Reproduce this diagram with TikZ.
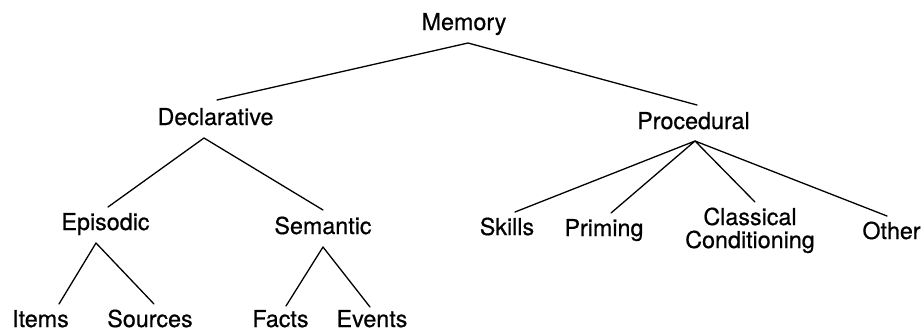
\documentclass[tikz,border=0pt]{standalone}
\usepackage{fontspec}
\setmainfont{TeX Gyre Heros}
\newfontfamily\treefont{TeX Gyre Heros}[FakeBold=0.6]
\begin{document}
\begin{tikzpicture}[x=1pt,y=-1pt,
  label/.style={anchor=base,inner sep=0pt,align=center,
    font=\treefont\fontsize{23.3}{23}\selectfont},
  branch/.style={line width=1.3pt,line cap=round,line join=round}]
\path[use as bounding box] (0,0) rectangle (923,333);

% category labels (positioned on their baselines; the two-line label sits on its last line)
\node[label] (mem)   at (464,30)  {Memory};
\node[label] (decl)  at (215.5,125) {Declarative};
\node[label] (proc)  at (693.5,129) {Procedural};
\node[label] (epi)   at (105.5,230) {Episodic};
\node[label] (sem)   at (323,234) {Semantic};
\node[label] (items) at (40.5,327) {Items};
\node[label] (src)   at (150,327) {Sources};
\node[label] (facts) at (280.5,327) {Facts};
\node[label] (evts)  at (372,327) {Events};
\node[label] (skill) at (507,235) {Skills};
\node[label] (prim)  at (604,236) {Priming};
\node[label] (cc)    at (750,248) {Classical\\Conditioning};
\node[label] (oth)   at (891.5,239) {Other};

% branching points below each parent
\coordinate (mem-b)  at (468,43);
\coordinate (decl-b) at (204,138);
\coordinate (proc-b) at (695,141);
\coordinate (epi-b)  at (96,243);
\coordinate (sem-b)  at (323,247);

% attachment points above each child
\coordinate (decl-t)  at (217,100);
\coordinate (proc-t)  at (697,105);
\coordinate (epi-t)   at (108,207);
\coordinate (sem-t)   at (323,210);
\coordinate (items-t) at (59,304);
\coordinate (src-t)   at (154,304);
\coordinate (facts-t) at (286,306);
\coordinate (evts-t)  at (370,307);
\coordinate (skill-t) at (515,212);
\coordinate (prim-t)  at (611,213);
\coordinate (cc-t)    at (755,202);
\coordinate (oth-t)   at (887,216);

\draw[branch] (decl-t) -- (mem-b) -- (proc-t);
\draw[branch] (epi-t) -- (decl-b) -- (sem-t);
\draw[branch] (items-t) -- (epi-b) -- (src-t);
\draw[branch] (facts-t) -- (sem-b) -- (evts-t);
\draw[branch] (skill-t) -- (proc-b) -- (prim-t);
\draw[branch] (cc-t) -- (proc-b) -- (oth-t);
\end{tikzpicture}
\end{document}
